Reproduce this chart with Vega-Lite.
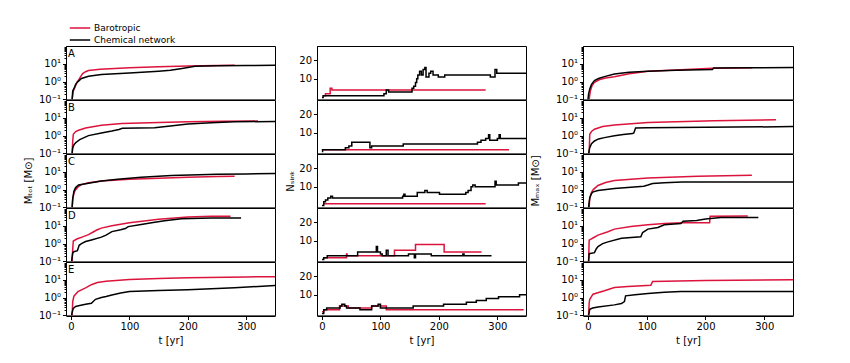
{
  "$schema": "https://vega.github.io/schema/vega-lite/v6.json",
  "autosize": {"type": "pad"},
  "padding": {"left": 23, "top": 21, "right": 5, "bottom": 5},
  "background": "white",
  "config": {
    "font": "DejaVu Sans",
    "view": {"stroke": "black", "strokeWidth": 1},
    "axis": {"grid": false, "domainColor": "black", "tickColor": "black", "labelColor": "black", "titleColor": "black", "labelFontSize": 10, "titleFontSize": 10, "titleFontWeight": "normal", "tickSize": 3.5, "labelPadding": 2},
    "header": {"labels": false, "titleFontSize": 10, "titleFontWeight": "normal", "titleColor": "black"},
    "legend": {"labelFontSize": 9, "labelColor": "black"}
  },
  "datasets": {
    "runs": [
      {"p":"tot","r":"A","m":"Barotropic","t":2,"v":0.1},{"p":"tot","r":"A","m":"Barotropic","t":4,"v":0.3},{"p":"tot","r":"A","m":"Barotropic","t":7,"v":0.5},{"p":"tot","r":"A","m":"Barotropic","t":10,"v":0.9},{"p":"tot","r":"A","m":"Barotropic","t":13,"v":1.2},{"p":"tot","r":"A","m":"Barotropic","t":16,"v":1.8},{"p":"tot","r":"A","m":"Barotropic","t":20,"v":2.8},{"p":"tot","r":"A","m":"Barotropic","t":25,"v":3.6},{"p":"tot","r":"A","m":"Barotropic","t":30,"v":4.2},{"p":"tot","r":"A","m":"Barotropic","t":50,"v":5},{"p":"tot","r":"A","m":"Barotropic","t":100,"v":6},{"p":"tot","r":"A","m":"Barotropic","t":150,"v":6.8},{"p":"tot","r":"A","m":"Barotropic","t":200,"v":7.6},{"p":"tot","r":"A","m":"Barotropic","t":250,"v":8.1},{"p":"tot","r":"A","m":"Barotropic","t":280,"v":8.3},
      {"p":"tot","r":"A","m":"Chemical network","t":2,"v":0.1},{"p":"tot","r":"A","m":"Chemical network","t":3,"v":0.3},{"p":"tot","r":"A","m":"Chemical network","t":5,"v":0.4},{"p":"tot","r":"A","m":"Chemical network","t":8,"v":0.7},{"p":"tot","r":"A","m":"Chemical network","t":12,"v":1.0},{"p":"tot","r":"A","m":"Chemical network","t":18,"v":1.5},{"p":"tot","r":"A","m":"Chemical network","t":30,"v":2.0},{"p":"tot","r":"A","m":"Chemical network","t":52,"v":2.5},{"p":"tot","r":"A","m":"Chemical network","t":100,"v":3.0},{"p":"tot","r":"A","m":"Chemical network","t":150,"v":3.8},{"p":"tot","r":"A","m":"Chemical network","t":170,"v":4.3},{"p":"tot","r":"A","m":"Chemical network","t":190,"v":5.5},{"p":"tot","r":"A","m":"Chemical network","t":212,"v":7.3},{"p":"tot","r":"A","m":"Chemical network","t":250,"v":7.8},{"p":"tot","r":"A","m":"Chemical network","t":300,"v":8.0},{"p":"tot","r":"A","m":"Chemical network","t":350,"v":8.2},
      {"p":"tot","r":"B","m":"Barotropic","t":2,"v":0.1},{"p":"tot","r":"B","m":"Barotropic","t":3,"v":0.5},{"p":"tot","r":"B","m":"Barotropic","t":4,"v":1.2},{"p":"tot","r":"B","m":"Barotropic","t":8,"v":1.7},{"p":"tot","r":"B","m":"Barotropic","t":13,"v":2.0},{"p":"tot","r":"B","m":"Barotropic","t":25,"v":2.7},{"p":"tot","r":"B","m":"Barotropic","t":52,"v":3.8},{"p":"tot","r":"B","m":"Barotropic","t":87,"v":4.8},{"p":"tot","r":"B","m":"Barotropic","t":150,"v":5.5},{"p":"tot","r":"B","m":"Barotropic","t":200,"v":6.0},{"p":"tot","r":"B","m":"Barotropic","t":260,"v":6.3},{"p":"tot","r":"B","m":"Barotropic","t":320,"v":6.6},
      {"p":"tot","r":"B","m":"Chemical network","t":2,"v":0.1},{"p":"tot","r":"B","m":"Chemical network","t":3,"v":0.2},{"p":"tot","r":"B","m":"Chemical network","t":5,"v":0.3},{"p":"tot","r":"B","m":"Chemical network","t":8,"v":0.4},{"p":"tot","r":"B","m":"Chemical network","t":15,"v":0.6},{"p":"tot","r":"B","m":"Chemical network","t":30,"v":1.0},{"p":"tot","r":"B","m":"Chemical network","t":52,"v":1.4},{"p":"tot","r":"B","m":"Chemical network","t":70,"v":1.8},{"p":"tot","r":"B","m":"Chemical network","t":82,"v":2.2},{"p":"tot","r":"B","m":"Chemical network","t":88,"v":2.6},{"p":"tot","r":"B","m":"Chemical network","t":143,"v":2.8},{"p":"tot","r":"B","m":"Chemical network","t":170,"v":3.5},{"p":"tot","r":"B","m":"Chemical network","t":200,"v":4.5},{"p":"tot","r":"B","m":"Chemical network","t":240,"v":5.3},{"p":"tot","r":"B","m":"Chemical network","t":280,"v":6.0},{"p":"tot","r":"B","m":"Chemical network","t":350,"v":6.2},
      {"p":"tot","r":"C","m":"Barotropic","t":2,"v":0.1},{"p":"tot","r":"C","m":"Barotropic","t":3,"v":0.3},{"p":"tot","r":"C","m":"Barotropic","t":5,"v":0.6},{"p":"tot","r":"C","m":"Barotropic","t":7,"v":0.9},{"p":"tot","r":"C","m":"Barotropic","t":12,"v":1.4},{"p":"tot","r":"C","m":"Barotropic","t":18,"v":1.9},{"p":"tot","r":"C","m":"Barotropic","t":30,"v":2.4},{"p":"tot","r":"C","m":"Barotropic","t":52,"v":3.0},{"p":"tot","r":"C","m":"Barotropic","t":100,"v":3.8},{"p":"tot","r":"C","m":"Barotropic","t":150,"v":4.4},{"p":"tot","r":"C","m":"Barotropic","t":200,"v":5.0},{"p":"tot","r":"C","m":"Barotropic","t":250,"v":5.4},{"p":"tot","r":"C","m":"Barotropic","t":280,"v":5.6},
      {"p":"tot","r":"C","m":"Chemical network","t":2,"v":0.1},{"p":"tot","r":"C","m":"Chemical network","t":3,"v":0.3},{"p":"tot","r":"C","m":"Chemical network","t":5,"v":0.8},{"p":"tot","r":"C","m":"Chemical network","t":8,"v":1.3},{"p":"tot","r":"C","m":"Chemical network","t":13,"v":1.8},{"p":"tot","r":"C","m":"Chemical network","t":30,"v":2.3},{"p":"tot","r":"C","m":"Chemical network","t":52,"v":3.0},{"p":"tot","r":"C","m":"Chemical network","t":80,"v":3.8},{"p":"tot","r":"C","m":"Chemical network","t":120,"v":5.0},{"p":"tot","r":"C","m":"Chemical network","t":172,"v":6.2},{"p":"tot","r":"C","m":"Chemical network","t":250,"v":7.2},{"p":"tot","r":"C","m":"Chemical network","t":300,"v":7.6},{"p":"tot","r":"C","m":"Chemical network","t":350,"v":8.0},
      {"p":"tot","r":"D","m":"Barotropic","t":2,"v":0.1},{"p":"tot","r":"D","m":"Barotropic","t":3,"v":0.5},{"p":"tot","r":"D","m":"Barotropic","t":4,"v":1.4},{"p":"tot","r":"D","m":"Barotropic","t":10,"v":1.8},{"p":"tot","r":"D","m":"Barotropic","t":20,"v":2.4},{"p":"tot","r":"D","m":"Barotropic","t":30,"v":3.2},{"p":"tot","r":"D","m":"Barotropic","t":38,"v":4.5},{"p":"tot","r":"D","m":"Barotropic","t":45,"v":6},{"p":"tot","r":"D","m":"Barotropic","t":52,"v":7.4},{"p":"tot","r":"D","m":"Barotropic","t":70,"v":10},{"p":"tot","r":"D","m":"Barotropic","t":100,"v":15},{"p":"tot","r":"D","m":"Barotropic","t":150,"v":23},{"p":"tot","r":"D","m":"Barotropic","t":200,"v":31},{"p":"tot","r":"D","m":"Barotropic","t":240,"v":34},{"p":"tot","r":"D","m":"Barotropic","t":273,"v":34},
      {"p":"tot","r":"D","m":"Chemical network","t":1,"v":0.1},{"p":"tot","r":"D","m":"Chemical network","t":3,"v":0.3},{"p":"tot","r":"D","m":"Chemical network","t":5,"v":0.35},{"p":"tot","r":"D","m":"Chemical network","t":11,"v":0.4},{"p":"tot","r":"D","m":"Chemical network","t":14,"v":0.8},{"p":"tot","r":"D","m":"Chemical network","t":18,"v":1.0},{"p":"tot","r":"D","m":"Chemical network","t":25,"v":1.3},{"p":"tot","r":"D","m":"Chemical network","t":35,"v":1.6},{"p":"tot","r":"D","m":"Chemical network","t":52,"v":2.3},{"p":"tot","r":"D","m":"Chemical network","t":60,"v":3.0},{"p":"tot","r":"D","m":"Chemical network","t":70,"v":4.7},{"p":"tot","r":"D","m":"Chemical network","t":85,"v":6},{"p":"tot","r":"D","m":"Chemical network","t":93,"v":7},{"p":"tot","r":"D","m":"Chemical network","t":98,"v":9},{"p":"tot","r":"D","m":"Chemical network","t":120,"v":12},{"p":"tot","r":"D","m":"Chemical network","t":138,"v":15},{"p":"tot","r":"D","m":"Chemical network","t":160,"v":19},{"p":"tot","r":"D","m":"Chemical network","t":189,"v":25},{"p":"tot","r":"D","m":"Chemical network","t":240,"v":27},{"p":"tot","r":"D","m":"Chemical network","t":291,"v":27},
      {"p":"tot","r":"E","m":"Barotropic","t":2,"v":0.1},{"p":"tot","r":"E","m":"Barotropic","t":3,"v":0.6},{"p":"tot","r":"E","m":"Barotropic","t":5,"v":1.2},{"p":"tot","r":"E","m":"Barotropic","t":12,"v":2.2},{"p":"tot","r":"E","m":"Barotropic","t":25,"v":3.5},{"p":"tot","r":"E","m":"Barotropic","t":35,"v":5.3},{"p":"tot","r":"E","m":"Barotropic","t":45,"v":7.0},{"p":"tot","r":"E","m":"Barotropic","t":60,"v":8.4},{"p":"tot","r":"E","m":"Barotropic","t":100,"v":10.5},{"p":"tot","r":"E","m":"Barotropic","t":150,"v":12},{"p":"tot","r":"E","m":"Barotropic","t":200,"v":13},{"p":"tot","r":"E","m":"Barotropic","t":300,"v":14.5},{"p":"tot","r":"E","m":"Barotropic","t":350,"v":15},
      {"p":"tot","r":"E","m":"Chemical network","t":1,"v":0.1},{"p":"tot","r":"E","m":"Chemical network","t":2,"v":0.15},{"p":"tot","r":"E","m":"Chemical network","t":4,"v":0.25},{"p":"tot","r":"E","m":"Chemical network","t":8,"v":0.32},{"p":"tot","r":"E","m":"Chemical network","t":13,"v":0.35},{"p":"tot","r":"E","m":"Chemical network","t":25,"v":0.42},{"p":"tot","r":"E","m":"Chemical network","t":35,"v":0.48},{"p":"tot","r":"E","m":"Chemical network","t":38,"v":0.6},{"p":"tot","r":"E","m":"Chemical network","t":42,"v":0.8},{"p":"tot","r":"E","m":"Chemical network","t":52,"v":1.0},{"p":"tot","r":"E","m":"Chemical network","t":60,"v":1.15},{"p":"tot","r":"E","m":"Chemical network","t":70,"v":1.4},{"p":"tot","r":"E","m":"Chemical network","t":85,"v":1.8},{"p":"tot","r":"E","m":"Chemical network","t":100,"v":2.2},{"p":"tot","r":"E","m":"Chemical network","t":150,"v":2.5},{"p":"tot","r":"E","m":"Chemical network","t":200,"v":2.8},{"p":"tot","r":"E","m":"Chemical network","t":280,"v":3.6},{"p":"tot","r":"E","m":"Chemical network","t":350,"v":4.8},

      {"p":"sink","r":"A","m":"Barotropic","t":3,"v":1},{"p":"sink","r":"A","m":"Barotropic","t":6,"v":2},{"p":"sink","r":"A","m":"Barotropic","t":14,"v":5},{"p":"sink","r":"A","m":"Barotropic","t":17,"v":4},{"p":"sink","r":"A","m":"Barotropic","t":280,"v":4},
      {"p":"sink","r":"A","m":"Chemical network","t":0,"v":0},{"p":"sink","r":"A","m":"Chemical network","t":2,"v":1},{"p":"sink","r":"A","m":"Chemical network","t":102,"v":1},{"p":"sink","r":"A","m":"Chemical network","t":106,"v":2},{"p":"sink","r":"A","m":"Chemical network","t":110,"v":4},{"p":"sink","r":"A","m":"Chemical network","t":114,"v":3},{"p":"sink","r":"A","m":"Chemical network","t":151,"v":3},{"p":"sink","r":"A","m":"Chemical network","t":154,"v":5},{"p":"sink","r":"A","m":"Chemical network","t":157,"v":6},{"p":"sink","r":"A","m":"Chemical network","t":160,"v":8},{"p":"sink","r":"A","m":"Chemical network","t":162,"v":10},{"p":"sink","r":"A","m":"Chemical network","t":164,"v":12},{"p":"sink","r":"A","m":"Chemical network","t":167,"v":14},{"p":"sink","r":"A","m":"Chemical network","t":170,"v":12},{"p":"sink","r":"A","m":"Chemical network","t":173,"v":15},{"p":"sink","r":"A","m":"Chemical network","t":176,"v":16},{"p":"sink","r":"A","m":"Chemical network","t":178,"v":11},{"p":"sink","r":"A","m":"Chemical network","t":183,"v":13},{"p":"sink","r":"A","m":"Chemical network","t":186,"v":14},{"p":"sink","r":"A","m":"Chemical network","t":190,"v":12},{"p":"sink","r":"A","m":"Chemical network","t":199,"v":11},{"p":"sink","r":"A","m":"Chemical network","t":210,"v":12},{"p":"sink","r":"A","m":"Chemical network","t":286,"v":12},{"p":"sink","r":"A","m":"Chemical network","t":288,"v":11},{"p":"sink","r":"A","m":"Chemical network","t":294,"v":11},{"p":"sink","r":"A","m":"Chemical network","t":296,"v":15},{"p":"sink","r":"A","m":"Chemical network","t":299,"v":13},{"p":"sink","r":"A","m":"Chemical network","t":350,"v":13},
      {"p":"sink","r":"B","m":"Barotropic","t":0,"v":1},{"p":"sink","r":"B","m":"Barotropic","t":320,"v":1},
      {"p":"sink","r":"B","m":"Chemical network","t":0,"v":0},{"p":"sink","r":"B","m":"Chemical network","t":1,"v":1},{"p":"sink","r":"B","m":"Chemical network","t":38,"v":1},{"p":"sink","r":"B","m":"Chemical network","t":40,"v":2},{"p":"sink","r":"B","m":"Chemical network","t":46,"v":3},{"p":"sink","r":"B","m":"Chemical network","t":51,"v":5},{"p":"sink","r":"B","m":"Chemical network","t":81,"v":5},{"p":"sink","r":"B","m":"Chemical network","t":82,"v":2},{"p":"sink","r":"B","m":"Chemical network","t":85,"v":3},{"p":"sink","r":"B","m":"Chemical network","t":138,"v":3},{"p":"sink","r":"B","m":"Chemical network","t":139,"v":4},{"p":"sink","r":"B","m":"Chemical network","t":264,"v":4},{"p":"sink","r":"B","m":"Chemical network","t":266,"v":5},{"p":"sink","r":"B","m":"Chemical network","t":272,"v":6},{"p":"sink","r":"B","m":"Chemical network","t":280,"v":7},{"p":"sink","r":"B","m":"Chemical network","t":285,"v":9},{"p":"sink","r":"B","m":"Chemical network","t":287,"v":6},{"p":"sink","r":"B","m":"Chemical network","t":297,"v":6},{"p":"sink","r":"B","m":"Chemical network","t":300,"v":7},{"p":"sink","r":"B","m":"Chemical network","t":303,"v":9},{"p":"sink","r":"B","m":"Chemical network","t":305,"v":7},{"p":"sink","r":"B","m":"Chemical network","t":350,"v":7},
      {"p":"sink","r":"C","m":"Barotropic","t":3,"v":1},{"p":"sink","r":"C","m":"Barotropic","t":280,"v":1},
      {"p":"sink","r":"C","m":"Chemical network","t":0,"v":0},{"p":"sink","r":"C","m":"Chemical network","t":3,"v":2},{"p":"sink","r":"C","m":"Chemical network","t":6,"v":3},{"p":"sink","r":"C","m":"Chemical network","t":10,"v":4},{"p":"sink","r":"C","m":"Chemical network","t":15,"v":5},{"p":"sink","r":"C","m":"Chemical network","t":18,"v":4},{"p":"sink","r":"C","m":"Chemical network","t":138,"v":5},{"p":"sink","r":"C","m":"Chemical network","t":140,"v":6},{"p":"sink","r":"C","m":"Chemical network","t":142,"v":5},{"p":"sink","r":"C","m":"Chemical network","t":163,"v":7},{"p":"sink","r":"C","m":"Chemical network","t":176,"v":8},{"p":"sink","r":"C","m":"Chemical network","t":180,"v":7},{"p":"sink","r":"C","m":"Chemical network","t":201,"v":6},{"p":"sink","r":"C","m":"Chemical network","t":246,"v":7},{"p":"sink","r":"C","m":"Chemical network","t":250,"v":8},{"p":"sink","r":"C","m":"Chemical network","t":255,"v":10},{"p":"sink","r":"C","m":"Chemical network","t":258,"v":11},{"p":"sink","r":"C","m":"Chemical network","t":262,"v":10},{"p":"sink","r":"C","m":"Chemical network","t":294,"v":10},{"p":"sink","r":"C","m":"Chemical network","t":296,"v":13},{"p":"sink","r":"C","m":"Chemical network","t":298,"v":11},{"p":"sink","r":"C","m":"Chemical network","t":336,"v":12},{"p":"sink","r":"C","m":"Chemical network","t":350,"v":12},
      {"p":"sink","r":"D","m":"Barotropic","t":4,"v":1},{"p":"sink","r":"D","m":"Barotropic","t":41,"v":1},{"p":"sink","r":"D","m":"Barotropic","t":42,"v":3},{"p":"sink","r":"D","m":"Barotropic","t":43,"v":2},{"p":"sink","r":"D","m":"Barotropic","t":124,"v":5},{"p":"sink","r":"D","m":"Barotropic","t":160,"v":8},{"p":"sink","r":"D","m":"Barotropic","t":209,"v":4},{"p":"sink","r":"D","m":"Barotropic","t":273,"v":4},
      {"p":"sink","r":"D","m":"Chemical network","t":0,"v":0},{"p":"sink","r":"D","m":"Chemical network","t":3,"v":1},{"p":"sink","r":"D","m":"Chemical network","t":9,"v":2},{"p":"sink","r":"D","m":"Chemical network","t":60,"v":2},{"p":"sink","r":"D","m":"Chemical network","t":61,"v":4},{"p":"sink","r":"D","m":"Chemical network","t":91,"v":4},{"p":"sink","r":"D","m":"Chemical network","t":93,"v":7},{"p":"sink","r":"D","m":"Chemical network","t":95,"v":4},{"p":"sink","r":"D","m":"Chemical network","t":100,"v":3},{"p":"sink","r":"D","m":"Chemical network","t":103,"v":2},{"p":"sink","r":"D","m":"Chemical network","t":108,"v":2},{"p":"sink","r":"D","m":"Chemical network","t":110,"v":5},{"p":"sink","r":"D","m":"Chemical network","t":113,"v":2},{"p":"sink","r":"D","m":"Chemical network","t":147,"v":2},{"p":"sink","r":"D","m":"Chemical network","t":148,"v":3},{"p":"sink","r":"D","m":"Chemical network","t":157,"v":3},{"p":"sink","r":"D","m":"Chemical network","t":158,"v":1},{"p":"sink","r":"D","m":"Chemical network","t":160,"v":3},{"p":"sink","r":"D","m":"Chemical network","t":185,"v":3},{"p":"sink","r":"D","m":"Chemical network","t":187,"v":2},{"p":"sink","r":"D","m":"Chemical network","t":240,"v":2},{"p":"sink","r":"D","m":"Chemical network","t":241,"v":3},{"p":"sink","r":"D","m":"Chemical network","t":243,"v":2},{"p":"sink","r":"D","m":"Chemical network","t":290,"v":2},
      {"p":"sink","r":"E","m":"Barotropic","t":0,"v":1},{"p":"sink","r":"E","m":"Barotropic","t":3,"v":2},{"p":"sink","r":"E","m":"Barotropic","t":30,"v":4},{"p":"sink","r":"E","m":"Barotropic","t":45,"v":3},{"p":"sink","r":"E","m":"Barotropic","t":85,"v":4},{"p":"sink","r":"E","m":"Barotropic","t":110,"v":2},{"p":"sink","r":"E","m":"Barotropic","t":345,"v":2},
      {"p":"sink","r":"E","m":"Chemical network","t":0,"v":0},{"p":"sink","r":"E","m":"Chemical network","t":3,"v":2},{"p":"sink","r":"E","m":"Chemical network","t":8,"v":3},{"p":"sink","r":"E","m":"Chemical network","t":31,"v":4},{"p":"sink","r":"E","m":"Chemical network","t":34,"v":5},{"p":"sink","r":"E","m":"Chemical network","t":39,"v":4},{"p":"sink","r":"E","m":"Chemical network","t":42,"v":3},{"p":"sink","r":"E","m":"Chemical network","t":65,"v":2},{"p":"sink","r":"E","m":"Chemical network","t":85,"v":4},{"p":"sink","r":"E","m":"Chemical network","t":96,"v":5},{"p":"sink","r":"E","m":"Chemical network","t":100,"v":3},{"p":"sink","r":"E","m":"Chemical network","t":156,"v":4},{"p":"sink","r":"E","m":"Chemical network","t":208,"v":5},{"p":"sink","r":"E","m":"Chemical network","t":247,"v":6},{"p":"sink","r":"E","m":"Chemical network","t":264,"v":7},{"p":"sink","r":"E","m":"Chemical network","t":281,"v":8},{"p":"sink","r":"E","m":"Chemical network","t":302,"v":9},{"p":"sink","r":"E","m":"Chemical network","t":338,"v":10},{"p":"sink","r":"E","m":"Chemical network","t":350,"v":10},

      {"p":"max","r":"A","m":"Barotropic","t":2,"v":0.1},{"p":"max","r":"A","m":"Barotropic","t":4,"v":0.3},{"p":"max","r":"A","m":"Barotropic","t":7,"v":0.6},{"p":"max","r":"A","m":"Barotropic","t":11,"v":0.9},{"p":"max","r":"A","m":"Barotropic","t":20,"v":1.3},{"p":"max","r":"A","m":"Barotropic","t":30,"v":1.6},{"p":"max","r":"A","m":"Barotropic","t":45,"v":1.9},{"p":"max","r":"A","m":"Barotropic","t":70,"v":2.8},{"p":"max","r":"A","m":"Barotropic","t":102,"v":3.8},{"p":"max","r":"A","m":"Barotropic","t":158,"v":4.6},{"p":"max","r":"A","m":"Barotropic","t":212,"v":5.6},{"p":"max","r":"A","m":"Barotropic","t":280,"v":6.0},
      {"p":"max","r":"A","m":"Chemical network","t":0,"v":0.1},{"p":"max","r":"A","m":"Chemical network","t":1,"v":0.2},{"p":"max","r":"A","m":"Chemical network","t":3,"v":0.39},{"p":"max","r":"A","m":"Chemical network","t":6,"v":0.7},{"p":"max","r":"A","m":"Chemical network","t":11,"v":1.15},{"p":"max","r":"A","m":"Chemical network","t":18,"v":1.5},{"p":"max","r":"A","m":"Chemical network","t":28,"v":1.9},{"p":"max","r":"A","m":"Chemical network","t":45,"v":2.7},{"p":"max","r":"A","m":"Chemical network","t":70,"v":3.3},{"p":"max","r":"A","m":"Chemical network","t":102,"v":3.8},{"p":"max","r":"A","m":"Chemical network","t":150,"v":4.3},{"p":"max","r":"A","m":"Chemical network","t":212,"v":4.8},{"p":"max","r":"A","m":"Chemical network","t":214,"v":5.9},{"p":"max","r":"A","m":"Chemical network","t":280,"v":6.0},{"p":"max","r":"A","m":"Chemical network","t":350,"v":6.1},
      {"p":"max","r":"B","m":"Barotropic","t":2,"v":0.1},{"p":"max","r":"B","m":"Barotropic","t":3,"v":1.2},{"p":"max","r":"B","m":"Barotropic","t":6,"v":1.7},{"p":"max","r":"B","m":"Barotropic","t":11,"v":2.3},{"p":"max","r":"B","m":"Barotropic","t":25,"v":3.2},{"p":"max","r":"B","m":"Barotropic","t":45,"v":4.0},{"p":"max","r":"B","m":"Barotropic","t":102,"v":5.4},{"p":"max","r":"B","m":"Barotropic","t":215,"v":6.8},{"p":"max","r":"B","m":"Barotropic","t":320,"v":7.7},
      {"p":"max","r":"B","m":"Chemical network","t":1,"v":0.1},{"p":"max","r":"B","m":"Chemical network","t":2,"v":0.15},{"p":"max","r":"B","m":"Chemical network","t":3,"v":0.21},{"p":"max","r":"B","m":"Chemical network","t":6,"v":0.35},{"p":"max","r":"B","m":"Chemical network","t":11,"v":0.5},{"p":"max","r":"B","m":"Chemical network","t":18,"v":0.65},{"p":"max","r":"B","m":"Chemical network","t":28,"v":0.77},{"p":"max","r":"B","m":"Chemical network","t":45,"v":0.98},{"p":"max","r":"B","m":"Chemical network","t":60,"v":1.15},{"p":"max","r":"B","m":"Chemical network","t":76,"v":1.3},{"p":"max","r":"B","m":"Chemical network","t":78,"v":1.4},{"p":"max","r":"B","m":"Chemical network","t":81,"v":2.7},{"p":"max","r":"B","m":"Chemical network","t":100,"v":2.8},{"p":"max","r":"B","m":"Chemical network","t":200,"v":2.9},{"p":"max","r":"B","m":"Chemical network","t":350,"v":3.2},
      {"p":"max","r":"C","m":"Barotropic","t":2,"v":0.1},{"p":"max","r":"C","m":"Barotropic","t":3,"v":0.34},{"p":"max","r":"C","m":"Barotropic","t":6,"v":0.7},{"p":"max","r":"C","m":"Barotropic","t":9,"v":1.0},{"p":"max","r":"C","m":"Barotropic","t":17,"v":1.7},{"p":"max","r":"C","m":"Barotropic","t":30,"v":2.5},{"p":"max","r":"C","m":"Barotropic","t":45,"v":3.2},{"p":"max","r":"C","m":"Barotropic","t":102,"v":4.5},{"p":"max","r":"C","m":"Barotropic","t":187,"v":5.6},{"p":"max","r":"C","m":"Barotropic","t":279,"v":6.4},
      {"p":"max","r":"C","m":"Chemical network","t":1,"v":0.1},{"p":"max","r":"C","m":"Chemical network","t":2,"v":0.2},{"p":"max","r":"C","m":"Chemical network","t":3,"v":0.34},{"p":"max","r":"C","m":"Chemical network","t":6,"v":0.6},{"p":"max","r":"C","m":"Chemical network","t":9,"v":0.75},{"p":"max","r":"C","m":"Chemical network","t":17,"v":0.88},{"p":"max","r":"C","m":"Chemical network","t":45,"v":1.14},{"p":"max","r":"C","m":"Chemical network","t":73,"v":1.35},{"p":"max","r":"C","m":"Chemical network","t":95,"v":1.55},{"p":"max","r":"C","m":"Chemical network","t":102,"v":1.8},{"p":"max","r":"C","m":"Chemical network","t":110,"v":2.2},{"p":"max","r":"C","m":"Chemical network","t":130,"v":2.45},{"p":"max","r":"C","m":"Chemical network","t":160,"v":2.65},{"p":"max","r":"C","m":"Chemical network","t":350,"v":2.65},
      {"p":"max","r":"D","m":"Barotropic","t":1,"v":0.1},{"p":"max","r":"D","m":"Barotropic","t":2,"v":1.56},{"p":"max","r":"D","m":"Barotropic","t":10,"v":2.2},{"p":"max","r":"D","m":"Barotropic","t":17,"v":3.0},{"p":"max","r":"D","m":"Barotropic","t":34,"v":4.6},{"p":"max","r":"D","m":"Barotropic","t":45,"v":6.5},{"p":"max","r":"D","m":"Barotropic","t":73,"v":9.1},{"p":"max","r":"D","m":"Barotropic","t":102,"v":11.4},{"p":"max","r":"D","m":"Barotropic","t":130,"v":13.5},{"p":"max","r":"D","m":"Barotropic","t":160,"v":14.8},{"p":"max","r":"D","m":"Barotropic","t":207,"v":14.8},{"p":"max","r":"D","m":"Barotropic","t":208,"v":34},{"p":"max","r":"D","m":"Barotropic","t":272,"v":36},
      {"p":"max","r":"D","m":"Chemical network","t":1,"v":0.1},{"p":"max","r":"D","m":"Chemical network","t":2,"v":0.27},{"p":"max","r":"D","m":"Chemical network","t":11,"v":0.31},{"p":"max","r":"D","m":"Chemical network","t":14,"v":0.5},{"p":"max","r":"D","m":"Chemical network","t":17,"v":0.68},{"p":"max","r":"D","m":"Chemical network","t":25,"v":1.0},{"p":"max","r":"D","m":"Chemical network","t":34,"v":1.25},{"p":"max","r":"D","m":"Chemical network","t":57,"v":2.0},{"p":"max","r":"D","m":"Chemical network","t":90,"v":2.4},{"p":"max","r":"D","m":"Chemical network","t":93,"v":4.2},{"p":"max","r":"D","m":"Chemical network","t":102,"v":6.5},{"p":"max","r":"D","m":"Chemical network","t":119,"v":8},{"p":"max","r":"D","m":"Chemical network","t":130,"v":11.4},{"p":"max","r":"D","m":"Chemical network","t":158,"v":13.5},{"p":"max","r":"D","m":"Chemical network","t":162,"v":18},{"p":"max","r":"D","m":"Chemical network","t":185,"v":20},{"p":"max","r":"D","m":"Chemical network","t":200,"v":24},{"p":"max","r":"D","m":"Chemical network","t":226,"v":29.5},{"p":"max","r":"D","m":"Chemical network","t":290,"v":29.5},
      {"p":"max","r":"E","m":"Barotropic","t":1,"v":0.1},{"p":"max","r":"E","m":"Barotropic","t":2,"v":0.5},{"p":"max","r":"E","m":"Barotropic","t":3,"v":0.8},{"p":"max","r":"E","m":"Barotropic","t":8.5,"v":1.55},{"p":"max","r":"E","m":"Barotropic","t":28,"v":2.4},{"p":"max","r":"E","m":"Barotropic","t":45,"v":3.7},{"p":"max","r":"E","m":"Barotropic","t":68,"v":4.2},{"p":"max","r":"E","m":"Barotropic","t":107,"v":5.0},{"p":"max","r":"E","m":"Barotropic","t":110,"v":8.0},{"p":"max","r":"E","m":"Barotropic","t":200,"v":9},{"p":"max","r":"E","m":"Barotropic","t":350,"v":10},
      {"p":"max","r":"E","m":"Chemical network","t":1,"v":0.1},{"p":"max","r":"E","m":"Chemical network","t":2,"v":0.15},{"p":"max","r":"E","m":"Chemical network","t":3,"v":0.22},{"p":"max","r":"E","m":"Chemical network","t":8,"v":0.26},{"p":"max","r":"E","m":"Chemical network","t":17,"v":0.3},{"p":"max","r":"E","m":"Chemical network","t":45,"v":0.39},{"p":"max","r":"E","m":"Chemical network","t":57,"v":0.46},{"p":"max","r":"E","m":"Chemical network","t":62,"v":0.6},{"p":"max","r":"E","m":"Chemical network","t":64,"v":1.25},{"p":"max","r":"E","m":"Chemical network","t":80,"v":1.45},{"p":"max","r":"E","m":"Chemical network","t":102,"v":1.7},{"p":"max","r":"E","m":"Chemical network","t":130,"v":2.0},{"p":"max","r":"E","m":"Chemical network","t":158,"v":2.2},{"p":"max","r":"E","m":"Chemical network","t":350,"v":2.2}
    ]
  },
  "data": {"name": "runs"},
  "resolve": {"scale": {"y": "independent", "x": "independent"}},
  "spacing": 10,
  "hconcat": [
    {
      "transform": [{"filter": "datum.p == 'tot'"}],
      "facet": {"row": {"field": "r", "type": "nominal", "header": {"labels": false, "title": "Mₜₒₜ [M⊙]", "titlePadding": -6}}},
      "spacing": {"row": 0},
      "bounds": "flush",
      "spec": {
        "width": 209,
        "height": 53.4,
        "layer": [
          {
            "mark": {"type": "line", "strokeWidth": 1.5, "clip": true},
            "encoding": {
              "x": {"field": "t", "type": "quantitative", "scale": {"domain": [-8.5, 349], "nice": false, "zero": false}, "axis": {"values": [0, 100, 200, 300], "title": "t [yr]"}},
              "y": {"field": "v", "type": "quantitative", "scale": {"type": "log", "domain": [0.1, 100], "nice": false}, "axis": {"title": null, "values": [0.1,0.2,0.3,0.4,0.5,0.6,0.7,0.8,0.9,1,2,3,4,5,6,7,8,9,10,20,30,40,50,60,70,80,90], "labelExpr": "datum.value == 0.1 ? '10⁻¹' : datum.value == 1 ? '10⁰' : datum.value == 10 ? '10¹' : ''", "labelOverlap": false, "tickSize": {"condition": {"test": "datum.value == 0.1 || datum.value == 1 || datum.value == 10", "value": 3.5}, "value": 2}}},
              "color": {"field": "m", "type": "nominal", "scale": {"domain": ["Barotropic", "Chemical network"], "range": ["#dc143c", "#000000"]}, "legend": {"title": null, "orient": "none", "legendX": 7, "legendY": -25, "symbolType": "M-1.7,0H1.7", "symbolStrokeWidth": 1.5, "symbolSize": 144, "rowPadding": 0, "labelOffset": 7, "labelFontSize": 9}}
            }
          },
          {
            "transform": [{"aggregate": [{"op": "count", "as": "n"}], "groupby": ["r"]}],
            "mark": {"type": "text", "align": "left", "baseline": "middle", "fontSize": 10, "color": "black"},
            "encoding": {
              "x": {"datum": -5, "type": "quantitative"},
              "y": {"datum": 35, "type": "quantitative"},
              "text": {"field": "r", "type": "nominal"}
            }
          }
        ]
      }
    },
    {
      "resolve": {"scale": {"y": "independent", "x": "independent"}},
      "spacing": 3,
      "hconcat": [
        {
          "transform": [{"filter": "datum.p == 'sink'"}],
          "facet": {"row": {"field": "r", "type": "nominal", "header": {"labels": false, "title": "Nₛᵢₙₖ", "titlePadding": -8}}},
          "spacing": {"row": 0},
          "bounds": "flush",
          "spec": {
            "width": 209,
            "height": 53.4,
            "mark": {"type": "line", "strokeWidth": 1.5, "interpolate": "step-after", "clip": true},
            "encoding": {
              "x": {"field": "t", "type": "quantitative", "scale": {"domain": [-8.5, 349], "nice": false, "zero": false}, "axis": {"values": [0, 100, 200, 300], "title": "t [yr]"}},
              "y": {"field": "v", "type": "quantitative", "scale": {"domain": [-1, 27.5], "nice": false, "zero": false}, "axis": {"title": null, "values": [10, 20]}},
              "color": {"field": "m", "type": "nominal"}
            }
          }
        },
        {
          "transform": [{"filter": "datum.p == 'max'"}],
          "facet": {"row": {"field": "r", "type": "nominal", "header": {"labels": false, "title": "Mₘₐₓ [M⊙]", "titlePadding": 4}}},
          "spacing": {"row": 0},
          "bounds": "flush",
          "spec": {
            "width": 210,
            "height": 53.4,
            "mark": {"type": "line", "strokeWidth": 1.5, "clip": true},
            "encoding": {
              "x": {"field": "t", "type": "quantitative", "scale": {"domain": [-8.5, 349], "nice": false, "zero": false}, "axis": {"values": [0, 100, 200, 300], "title": "t [yr]"}},
              "y": {"field": "v", "type": "quantitative", "scale": {"type": "log", "domain": [0.1, 100], "nice": false}, "axis": {"title": null, "values": [0.1,0.2,0.3,0.4,0.5,0.6,0.7,0.8,0.9,1,2,3,4,5,6,7,8,9,10,20,30,40,50,60,70,80,90], "labelExpr": "datum.value == 0.1 ? '10⁻¹' : datum.value == 1 ? '10⁰' : datum.value == 10 ? '10¹' : ''", "labelOverlap": false, "tickSize": {"condition": {"test": "datum.value == 0.1 || datum.value == 1 || datum.value == 10", "value": 3.5}, "value": 2}}},
              "color": {"field": "m", "type": "nominal"}
            }
          }
        }
      ]
    }
  ]
}
